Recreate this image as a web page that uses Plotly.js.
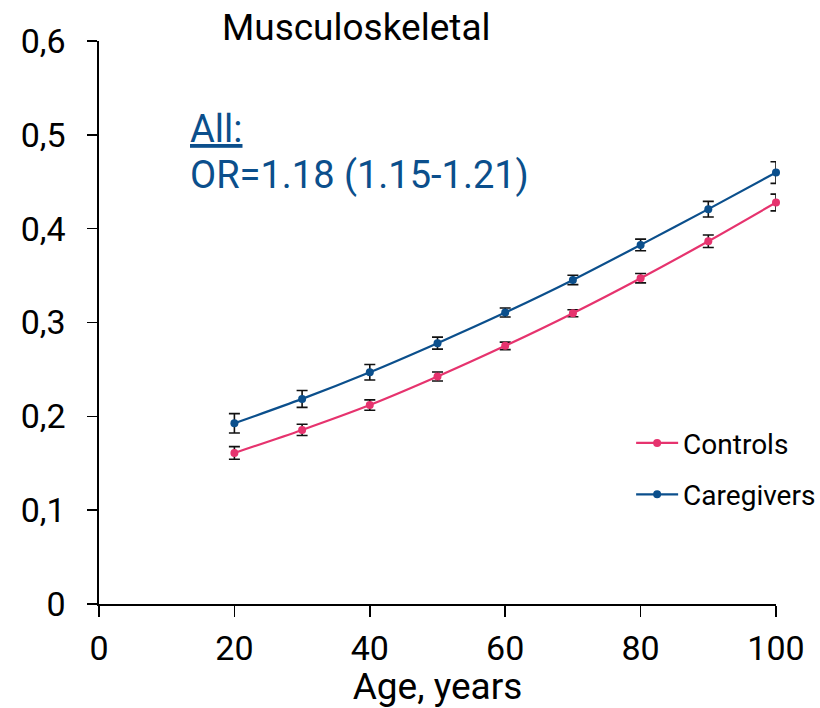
<!DOCTYPE html>
<html>
<head>
<meta charset="utf-8">
<script src="https://cdn.plot.ly/plotly-3.0.1.min.js"></script>
<style>
  html, body { margin: 0; padding: 0; background: #fff; }
  #chart { width: 820px; height: 708px; }
</style>
</head>
<body>
<div id="chart"></div>
<script>
const ages = [20, 30, 40, 50, 60, 70, 80, 90, 100];
const controls = [0.161, 0.1855, 0.212, 0.2424, 0.2751, 0.3099, 0.3472, 0.3866, 0.4279];
const controlsErr = [0.0067, 0.006, 0.0055, 0.0048, 0.004, 0.0037, 0.005, 0.0066, 0.0089];
const caregivers = [0.1926, 0.2186, 0.247, 0.278, 0.3106, 0.3454, 0.3827, 0.4208, 0.4598];
const caregiversErr = [0.0103, 0.009, 0.0082, 0.0064, 0.0048, 0.005, 0.0062, 0.0083, 0.0115];
const yTicks = [0, 0.1, 0.2, 0.3, 0.4, 0.5, 0.6];
const yTickText = ['0', '0,1', '0,2', '0,3', '0,4', '0,5', '0,6'];
const xTicks = [0, 20, 40, 60, 80, 100];

const PINK = '#e6336e';
const BLUE = '#0b4f8c';
const FONT = 'Roboto, "Noto Sans", sans-serif';

const errStyle = (arr) => ({ type: 'data', array: arr, visible: true, color: '#111', thickness: 1.6, width: 5.5 });

const traces = [
  {
    x: ages, y: controls, name: 'Controls', type: 'scatter', mode: 'lines+markers',
    line: { color: PINK, width: 2.2, shape: 'spline', smoothing: 0.8 },
    marker: { color: PINK, size: 8 },
    error_y: errStyle(controlsErr), cliponaxis: false, legendgroup: 'a'
  },
  {
    x: ages, y: caregivers, name: 'Caregivers', type: 'scatter', mode: 'lines+markers',
    line: { color: BLUE, width: 2.2, shape: 'spline', smoothing: 0.8 },
    marker: { color: BLUE, size: 8 },
    error_y: errStyle(caregiversErr), cliponaxis: false, legendgroup: 'b'
  }
];

const layout = {
  width: 820, height: 708,
  margin: { l: 99, r: 44, t: 41, b: 104, autoexpand: false },
  paper_bgcolor: '#fff', plot_bgcolor: '#fff',
  font: { family: FONT, color: '#000', size: 34 },
  title: {
    text: 'Musculoskeletal',
    font: { family: FONT, size: 37, color: '#000' },
    xref: 'paper', x: 0.38, xanchor: 'center',
    yref: 'container', y: 0.962, yanchor: 'middle'
  },
  xaxis: {
    range: [0, 100], tickvals: xTicks, ticktext: xTicks.map(String),
    automargin: false,
    showline: true, linecolor: '#000', linewidth: 1.6,
    ticks: 'outside', ticklen: 11, tickwidth: 1.6, tickcolor: '#000',
    showgrid: false, zeroline: false,
    tickfont: { family: FONT, size: 34, color: '#000' },
    ticklabelstandoff: 3,
    title: { text: 'Age, years', font: { family: FONT, size: 37, color: '#000' }, standoff: 4 }
  },
  yaxis: {
    range: [0, 0.6], tickvals: yTicks, ticktext: yTickText,
    automargin: false,
    showline: true, linecolor: '#000', linewidth: 1.6,
    ticks: 'outside', ticklen: 10, tickwidth: 1.6, tickcolor: '#000',
    showgrid: false, zeroline: false,
    tickfont: { family: FONT, size: 34, color: '#000' },
    ticklabelstandoff: 15
  },
  showlegend: true,
  legend: {
    x: 0.786, xanchor: 'left', y: 0.33, yanchor: 'top',
    font: { family: FONT, size: 28, color: '#000' },
    bgcolor: 'rgba(0,0,0,0)', tracegroupgap: 12, itemwidth: 42
  },
  annotations: [
    {
      xref: 'paper', yref: 'paper', x: (188 - 99) / 677, y: (604 - 129) / 563,
      xanchor: 'left', yanchor: 'middle', showarrow: false,
      text: '<u>All:</u>', font: { family: FONT, size: 38, color: BLUE }
    },
    {
      xref: 'paper', yref: 'paper', x: (188 - 99) / 677, y: (604 - 175) / 563,
      xanchor: 'left', yanchor: 'middle', showarrow: false,
      text: 'OR=1.18 (1.15-1.21)', font: { family: FONT, size: 38, color: BLUE }
    }
  ]
};

Plotly.newPlot('chart', traces, layout, { staticPlot: true, displayModeBar: false });
</script>
</body>
</html>
